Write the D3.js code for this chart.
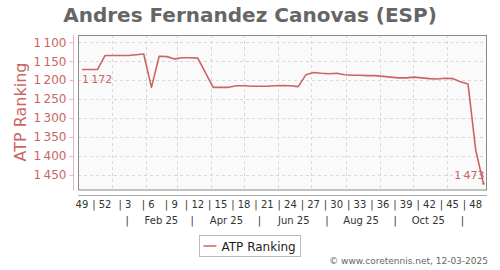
<!DOCTYPE html>
<html lang="en">
<head>
    <meta charset="UTF-8">
    <title>Andres Fernandez Canovas (ESP)</title>
    <script src="https://d3js.org/d3.v7.min.js"></script>
    <style>
        body { margin: 0; background: #fff; font-family: "DejaVu Sans", sans-serif; }
        .grid line { stroke: #d8d8d8; stroke-dasharray: 3 3; shape-rendering: crispEdges; }
        .week-label, .month-label { font-size: 10px; fill: #333; }
    </style>
</head>
<body>
    <svg width="500" height="270"></svg>
    <script>
        // ATP ranking, one value per weekly ranking date
        const rankingDates = [
            "2024-12-02", "2024-12-09", "2024-12-16", "2024-12-23", "2024-12-30",
            "2025-01-06", "2025-01-13", "2025-01-20", "2025-01-27",
            "2025-02-03", "2025-02-10", "2025-02-17", "2025-02-24",
            "2025-03-03", "2025-03-10", "2025-03-17", "2025-03-24", "2025-03-31",
            "2025-04-07", "2025-04-14", "2025-04-21", "2025-04-28",
            "2025-05-05", "2025-05-12", "2025-05-19", "2025-05-26",
            "2025-06-02", "2025-06-09", "2025-06-16", "2025-06-23", "2025-06-30",
            "2025-07-07", "2025-07-14", "2025-07-21", "2025-07-28",
            "2025-08-04", "2025-08-11", "2025-08-18", "2025-08-25",
            "2025-09-01", "2025-09-08", "2025-09-15", "2025-09-22", "2025-09-29",
            "2025-10-06", "2025-10-13", "2025-10-20", "2025-10-27",
            "2025-11-03", "2025-11-10", "2025-11-17", "2025-11-24",
            "2025-12-01"
        ];
        const ranks = [
            1172, 1172, 1172, 1135, 1135,
            1135, 1135, 1133, 1131,
            1219, 1137, 1138, 1144,
            1141, 1141, 1142, 1181, 1219,
            1219, 1219, 1215, 1215,
            1216, 1216, 1216, 1215,
            1214, 1215, 1217, 1186, 1180,
            1182, 1183, 1182, 1186,
            1187, 1187, 1188, 1188,
            1190, 1192, 1194, 1194, 1192,
            1194, 1196, 1197, 1195,
            1196, 1204, 1210, 1385,
            1473
        ];
        const weekLabels = ["49", "52", "3", "6", "9", "12", "15", "18", "21", "24", "27", "30", "33", "36", "39", "42", "45", "48"];
        const monthLabels = ["Feb 25", "Apr 25", "Jun 25", "Aug 25", "Oct 25"];
        const rankTicks = [1100, 1150, 1200, 1250, 1300, 1350, 1400, 1450];

        const red = "#cc6464";
        const parse = d3.timeParse("%Y-%m-%d");
        const dates = rankingDates.map(parse);
        const data = dates.map((d, i) => ({ date: d, rank: ranks[i] }));

        const plot = { left: 78, top: 35, right: 487, bottom: 190.5 };
        const day = 864e5;
        const first = dates[0], last = dates[dates.length - 1];

        const svg = d3.select("svg");

        const x = d3.scaleTime()
            .domain([new Date(+first - 3.6 * day), new Date(+last + 3.2 * day)])
            .range([plot.left, plot.right]);

        const y = d3.scaleLinear()
            .domain([1081, 1491])
            .range([plot.top, plot.bottom]);

        const fmt = d3.formatLocale({ decimal: ".", thousands: "\u2009", grouping: [3], currency: ["", ""] }).format(",");

        // title
        svg.append("text")
            .attr("x", 250).attr("y", 22)
            .attr("text-anchor", "middle")
            .style("font-size", "20px").style("font-weight", "bold").style("fill", "#666")
            .text("Andres Fernandez Canovas (ESP)");

        // plot background
        svg.append("rect")
            .attr("x", plot.left).attr("y", plot.top)
            .attr("width", plot.right - plot.left).attr("height", plot.bottom - plot.top)
            .style("fill", "#fafafa").style("stroke", "none");

        // grid: horizontal on rank ticks, vertical on month starts (shifted like the source)
        const grid = svg.append("g").attr("class", "grid");
        grid.selectAll(".h").data(rankTicks).join("line")
            .attr("x1", plot.left).attr("x2", plot.right)
            .attr("y1", d => Math.round(y(d)) + 0.5).attr("y2", d => Math.round(y(d)) + 0.5);

        const monthStarts = d3.timeMonth.range(d3.timeMonth.ceil(first), last)
            .map(d => new Date(+d - 3 * day));
        grid.selectAll(".v").data(monthStarts).join("line")
            .attr("y1", plot.top).attr("y2", plot.bottom)
            .attr("x1", d => Math.round(x(d)) + 0.5).attr("x2", d => Math.round(x(d)) + 0.5);

        // frame
        svg.append("rect")
            .attr("x", plot.left + 0.5).attr("y", plot.top + 0.5)
            .attr("width", plot.right - plot.left - 1).attr("height", plot.bottom - plot.top - 1)
            .style("fill", "none").style("stroke", "#8a8a8a");

        // y axis
        const yAxis = svg.append("g")
            .attr("transform", "translate(73.5,0)")
            .call(d3.axisLeft(y).tickValues(rankTicks).tickFormat(fmt).tickSize(4).tickPadding(3));
        yAxis.select(".domain")
            .attr("d", `M0,${plot.top}V${plot.bottom}`)
            .style("stroke", "#e2b4b4");
        yAxis.selectAll(".tick line").style("stroke", "#e2b4b4");
        yAxis.selectAll(".tick text")
            .style("font-size", "12px").style("fill", red).style("font-family", "DejaVu Sans");

        svg.append("text")
            .attr("transform", `translate(26,112) rotate(-90)`)
            .attr("text-anchor", "middle")
            .style("font-size", "16px").style("fill", red)
            .text("ATP Ranking");

        // x axis line
        svg.append("line")
            .attr("x1", plot.left).attr("x2", plot.right)
            .attr("y1", 195.5).attr("y2", 195.5)
            .style("stroke", "#aaa");

        // week labels every third ranking date
        const weekDates = dates.filter((d, i) => i % 3 === 0);
        svg.selectAll(".week-label").data(weekLabels).join("text")
            .attr("class", "week-label")
            .attr("x", (d, i) => x(weekDates[i]) - (i ? 3.3 : 0))
            .attr("y", 208)
            .attr("text-anchor", "middle")
            .text((d, i) => i ? "| " + d : d);

        // month band labels with separators
        const monthParse = d3.timeParse("%b %y");
        const mid = s => new Date(+monthParse(s) + 11 * day);
        svg.selectAll(".month-label").data(monthLabels).join("text")
            .attr("class", "month-label")
            .attr("x", d => x(mid(d)))
            .attr("y", 224)
            .attr("text-anchor", "middle")
            .text(d => d);
        const seps = monthLabels.map(d => d3.timeMonth.offset(mid(d), -1))
            .concat([d3.timeMonth.offset(mid(monthLabels[monthLabels.length - 1]), 1)]);
        svg.selectAll(".month-sep").data(seps).join("text")
            .attr("class", "month-label month-sep")
            .attr("x", d => x(d))
            .attr("y", 224)
            .attr("text-anchor", "middle")
            .text("|");

        // ranking line
        const line = d3.line().x(d => x(d.date)).y(d => y(d.rank));
        svg.append("path")
            .datum(data)
            .attr("d", line)
            .style("fill", "none").style("stroke", red).style("stroke-width", 1.6)
            .style("stroke-linejoin", "round");

        const f = data[0], l = data[data.length - 1];
        svg.append("circle").attr("cx", x(l.date)).attr("cy", y(l.rank)).attr("r", 1.2).style("fill", red);

        svg.append("text")
            .attr("x", x(f.date)).attr("y", y(f.rank) + 13)
            .style("font-size", "11px").style("fill", red)
            .text(fmt(f.rank));
        svg.append("text")
            .attr("x", x(l.date) + 1).attr("y", y(l.rank) - 5)
            .attr("text-anchor", "end")
            .style("font-size", "11px").style("fill", red)
            .text(fmt(l.rank));

        // legend
        const legend = svg.append("g").attr("transform", "translate(199.5,235.5)");
        legend.append("rect").attr("width", 101).attr("height", 21)
            .style("fill", "#fff").style("stroke", "#bbb");
        legend.append("line").attr("x1", 4).attr("x2", 17).attr("y1", 10.5).attr("y2", 10.5)
            .style("stroke", red).style("stroke-width", 1.5);
        legend.append("text").attr("x", 22).attr("y", 15)
            .style("font-size", "12px").style("fill", "#222")
            .text("ATP Ranking");

        svg.append("text")
            .attr("x", 488).attr("y", 264)
            .attr("text-anchor", "end")
            .style("font-size", "9px").style("fill", "#666")
            .text("\u00a9 www.coretennis.net, 12-03-2025");
    </script>
</body>
</html>
